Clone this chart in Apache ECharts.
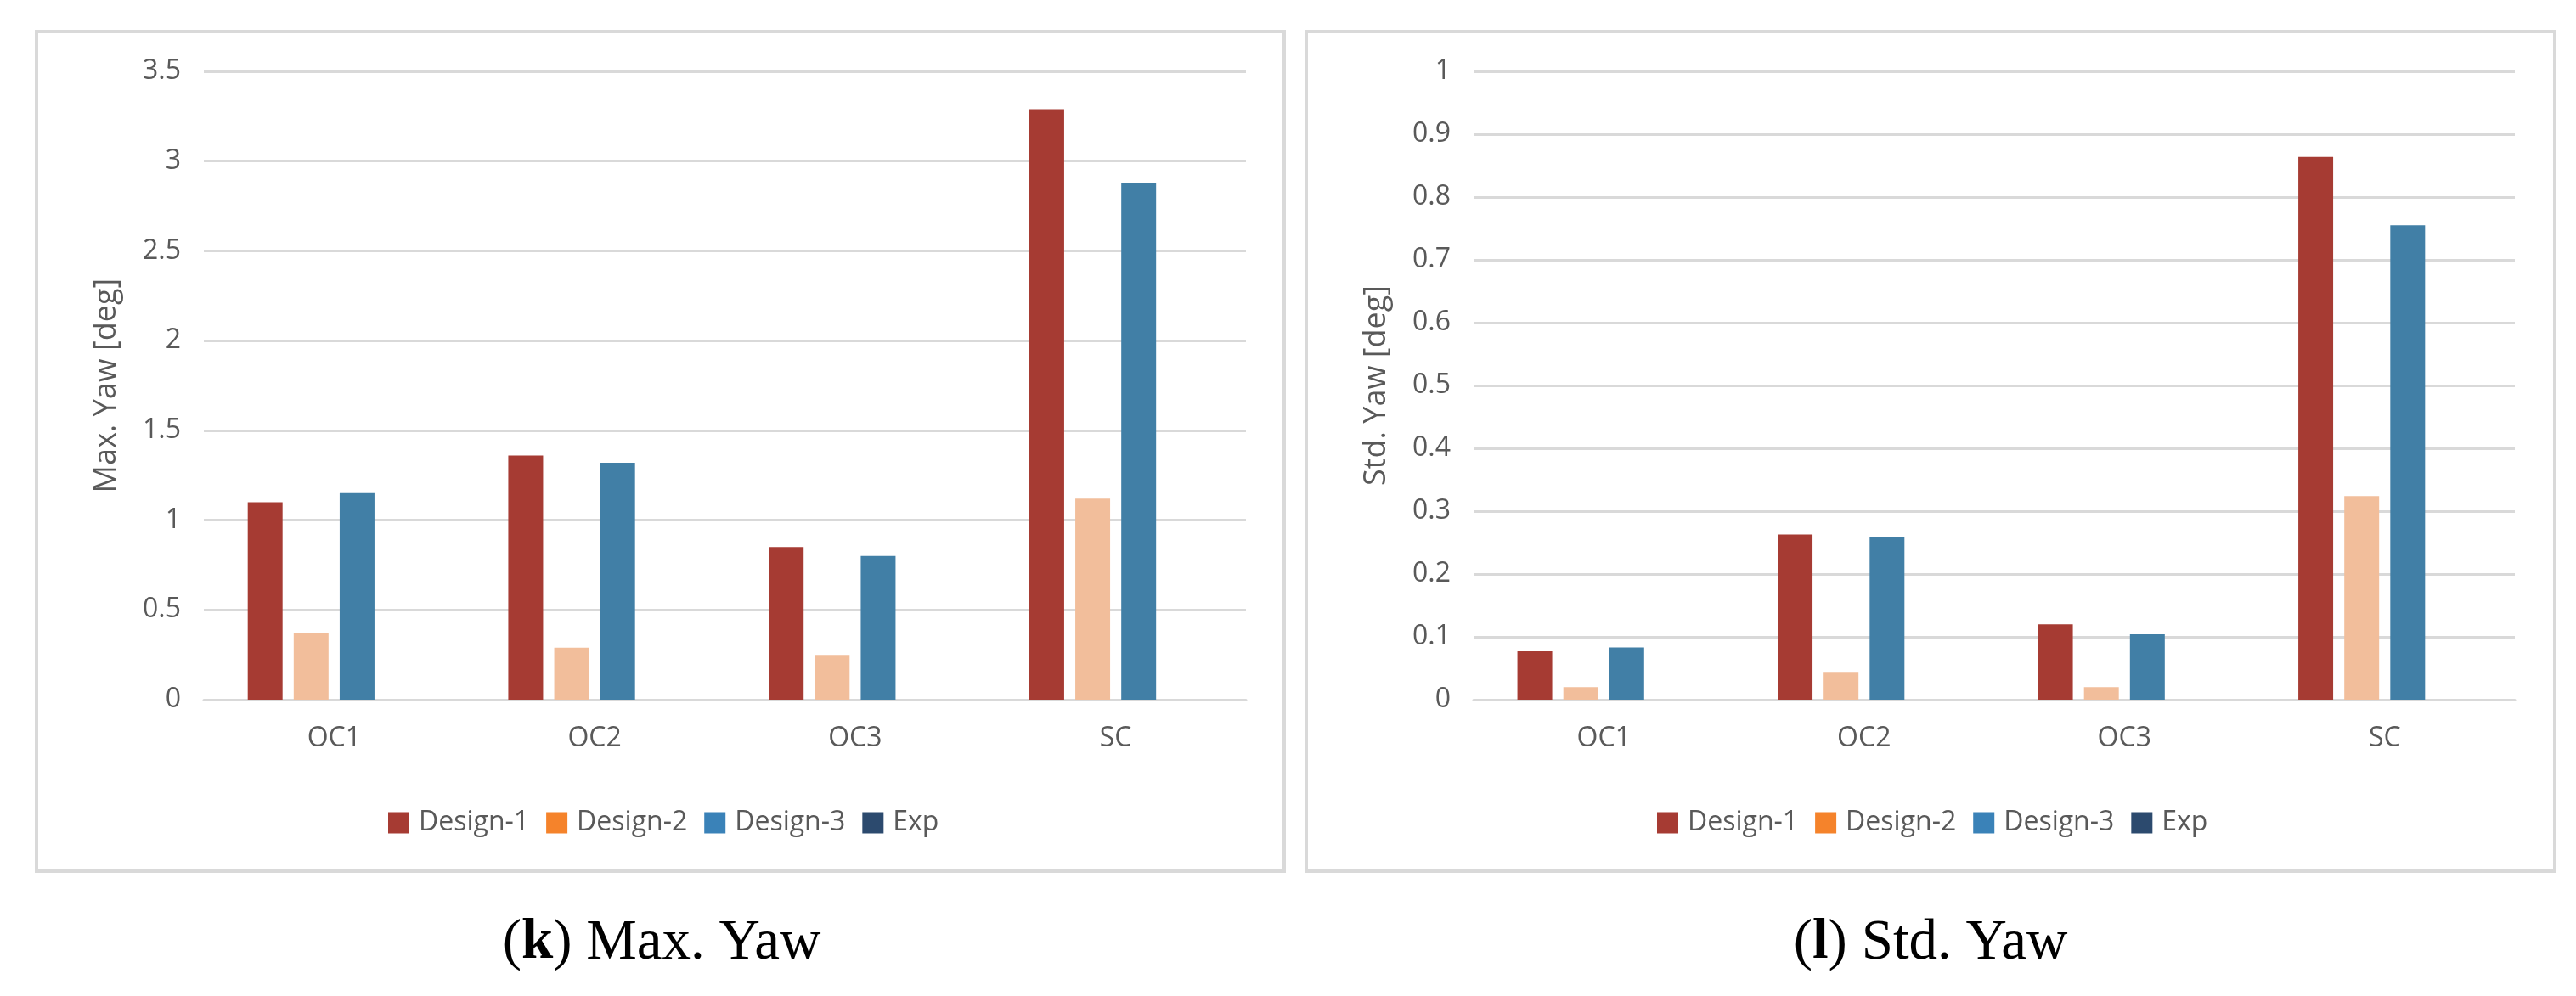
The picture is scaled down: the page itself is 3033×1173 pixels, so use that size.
<!DOCTYPE html>
<html>
<head>
<meta charset="utf-8">
<script src="https://cdn.jsdelivr.net/npm/echarts@6/dist/echarts.min.js"></script>
<style>
html,body{margin:0;padding:0;background:#fff;}
#main{width:3033px;height:1173px;}
</style>
</head>
<body>
<div id="main"></div>
<script>
// ---- data ----
const categories = ['OC1', 'OC2', 'OC3', 'SC'];
const seriesNames = ['Design-1', 'Design-2', 'Design-3', 'Exp'];

const maxYawDesign1 = [1.10, 1.36, 0.85, 3.29];
const maxYawDesign2 = [0.37, 0.29, 0.25, 1.12];
const maxYawDesign3 = [1.15, 1.32, 0.80, 2.88];
const maxYawExp = [null, null, null, null];

const stdYawDesign1 = [0.077, 0.263, 0.12, 0.864];
const stdYawDesign2 = [0.02, 0.043, 0.02, 0.324];
const stdYawDesign3 = [0.083, 0.258, 0.104, 0.755];
const stdYawExp = [null, null, null, null];

const maxYawTicks = { min: 0, max: 3.5, interval: 0.5 };
const stdYawTicks = { min: 0, max: 1, interval: 0.1 };

const axisTitles = ['Max. Yaw [deg]', 'Std. Yaw [deg]'];
const captions = [
  { letter: 'k', text: ' Max. Yaw' },
  { letter: 'l', text: ' Std. Yaw' }
];

// ---- styles ----
const barColors = ['#A63B33', '#F2BE9B', '#417FA6', '#2C4A6E'];
const legendColors = ['#A63B33', '#F5832B', '#3A82B8', '#2C4A6E'];
const textColor = '#595959';
const gridColor = '#D9D9D9';
const font = 'Open Sans';

const chart = echarts.init(document.getElementById('main'));

function makeLegend(left) {
  return {
    left: left, top: 948,
    itemWidth: 25, itemHeight: 25, itemGap: 20,
    icon: 'rect',
    textStyle: { color: textColor, fontSize: 32, fontFamily: font, padding: [0, 0, 0, 6] },
    data: seriesNames.map((n, i) => ({ name: n, itemStyle: { color: legendColors[i] } }))
  };
}

function makeXAxis(gridIndex) {
  return {
    type: 'category', gridIndex: gridIndex, data: categories,
    axisLine: { show: true, lineStyle: { color: gridColor, width: 3 } },
    axisTick: { show: false },
    axisLabel: { color: textColor, fontSize: 32, fontFamily: font, margin: 30 }
  };
}

function makeYAxis(gridIndex, ticks, name) {
  return {
    type: 'value', gridIndex: gridIndex,
    min: ticks.min, max: ticks.max, interval: ticks.interval,
    name: name, nameLocation: 'middle', nameGap: 96, nameRotate: 90,
    nameTextStyle: { color: textColor, fontSize: 36, fontFamily: font },
    axisLine: { show: false }, axisTick: { show: false },
    axisLabel: { color: textColor, fontSize: 32, fontFamily: font, margin: 27 },
    splitLine: { show: true, lineStyle: { color: gridColor, width: 3 } }
  };
}

function makeSeries(data, idx, axisIdx) {
  return {
    type: 'bar', name: seriesNames[idx], data: data,
    xAxisIndex: axisIdx, yAxisIndex: axisIdx,
    barWidth: 41, barGap: '32%',
    itemStyle: { color: barColors[idx] }
  };
}

const leftData = [maxYawDesign1, maxYawDesign2, maxYawDesign3, maxYawExp];
const rightData = [stdYawDesign1, stdYawDesign2, stdYawDesign3, stdYawExp];

const series = [];
leftData.forEach((d, i) => series.push(makeSeries(d, i, 0)));
rightData.forEach((d, i) => series.push(makeSeries(d, i, 1)));

function captionText(c, x) {
  return {
    type: 'text', x: x, y: 1111,
    style: {
      text: '{n|(}{b|' + c.letter + '}{n|)' + c.text + '}',
      align: 'center', verticalAlign: 'middle',
      rich: {
        n: { fontFamily: 'Liberation Serif', fontSize: 67, fill: '#000' },
        b: { fontFamily: 'Liberation Serif', fontSize: 67, fontWeight: 'bold', fill: '#000' }
      }
    }
  };
}

chart.setOption({
  animation: false,
  backgroundColor: '#fff',
  grid: [
    { left: 240, right: 3033 - 1467, top: 84, bottom: 1173 - 824 },
    { left: 1735, right: 3033 - 2961, top: 84, bottom: 1173 - 824 }
  ],
  legend: [makeLegend(452), makeLegend(1946)],
  xAxis: [makeXAxis(0), makeXAxis(1)],
  yAxis: [makeYAxis(0, maxYawTicks, axisTitles[0]), makeYAxis(1, stdYawTicks, axisTitles[1])],
  series: series,
  graphic: [
    { type: 'rect', shape: { x: 43, y: 37, width: 1469, height: 989 },
      style: { fill: 'none', stroke: gridColor, lineWidth: 4 }, silent: true },
    { type: 'rect', shape: { x: 1538, y: 37, width: 1470, height: 989 },
      style: { fill: 'none', stroke: gridColor, lineWidth: 4 }, silent: true },
    captionText(captions[0], 779),
    captionText(captions[1], 2273)
  ]
});
</script>
</body>
</html>
